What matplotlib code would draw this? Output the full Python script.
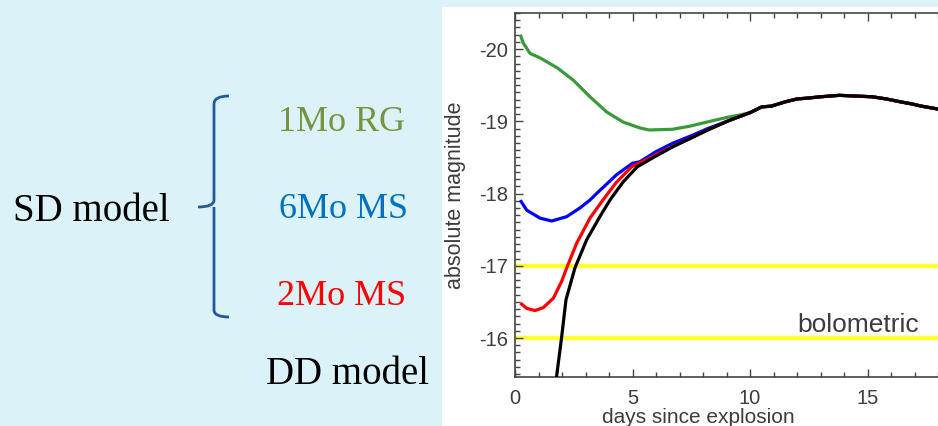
import matplotlib
matplotlib.use('Agg')
import numpy as np
import matplotlib.pyplot as plt
from matplotlib.patches import Rectangle, PathPatch
from matplotlib.path import Path
from matplotlib.ticker import MultipleLocator

plt.rcParams['font.family'] = ['Liberation Sans', 'DejaVu Sans']
plt.rcParams['axes.unicode_minus'] = False

# light curves (days since explosion, absolute magnitude)
tail_days = [10.0, 10.5, 10.9, 11.5, 12.0, 12.4, 13.0, 13.8, 14.5, 15.2, 15.8, 16.4, 16.9, 17.3, 18.0, 18.5]
tail_mag = [-19.12, -19.2, -19.21, -19.27, -19.31, -19.32, -19.34, -19.36, -19.35, -19.34, -19.31, -19.27, -19.24, -19.21, -19.17, -19.14]

rg_days = [0.25, 0.34, 0.64, 1.06, 1.8, 2.48, 3.19, 3.9, 4.6, 5.3, 5.7, 6.7, 7.4, 8.3, 9.1, 9.6]
rg_mag = [-20.18, -20.09, -19.94, -19.88, -19.74, -19.57, -19.34, -19.13, -18.99, -18.91, -18.88, -18.89, -18.93, -19.0, -19.06, -19.09]

ms6_days = [0.26, 0.5, 1.06, 1.56, 2.2, 2.76, 3.19, 3.47, 4.32, 5.0, 5.31, 6.0, 6.73, 7.5, 8.2, 9.1]
ms6_mag = [-17.89, -17.77, -17.66, -17.62, -17.68, -17.8, -17.91, -18.0, -18.26, -18.42, -18.44, -18.58, -18.7, -18.8, -18.9, -19.01]

ms2_days = [0.28, 0.5, 0.85, 1.2, 1.63, 1.98, 2.2, 2.62, 3.19, 3.74, 4.3, 4.96, 5.6, 6.5, 7.5, 8.2, 9.1]
ms2_mag = [-16.47, -16.41, -16.38, -16.42, -16.55, -16.78, -16.97, -17.31, -17.66, -17.91, -18.15, -18.37, -18.47, -18.62, -18.77, -18.88, -19.01]

dd_days = [1.65, 1.77, 1.98, 2.17, 2.55, 3.05, 3.61, 4.04, 4.6, 5.2, 6.0, 6.73, 7.5, 8.2, 9.1]
dd_mag = [-15.2, -15.47, -16.0, -16.53, -16.97, -17.36, -17.68, -17.91, -18.16, -18.37, -18.52, -18.65, -18.77, -18.88, -19.01]

limit_mags = [-17, -16]
xticks = [0, 5, 10, 15]
yticks = [-20, -19, -18, -17, -16]

W, H = 938, 426
fig = plt.figure(figsize=(W / 100, H / 100), dpi=100)
fig.patch.set_facecolor('#dbf3f8')


def fx(px):
    return px / W


def fy(py):
    return 1 - py / H


# white panel behind the plot
fig.patches.append(Rectangle((fx(442), 0), 1 - fx(442), fy(7), transform=fig.transFigure,
                             facecolor='white', edgecolor='none', zorder=-10))

ax = fig.add_axes([fx(515), fy(377), 23.5 * 20 / W, (377 - 13) / H])
ax.set_xlim(0, 20)
ax.set_ylim(-15.46, -20.5)

gray = '#3c3c3c'
for s in ax.spines.values():
    s.set_color('#444444')
    s.set_linewidth(1.2)

ax.set_xticks(xticks)
ax.set_xticklabels([str(t) for t in xticks])
ax.set_yticks(yticks)
ax.set_yticklabels([str(t) for t in yticks])
ax.xaxis.set_minor_locator(MultipleLocator(1))
ax.yaxis.set_minor_locator(MultipleLocator(0.1))
ax.tick_params(which='both', direction='in', top=True, right=True, colors='#444444',
               labelcolor=gray, labelsize=14.5, width=1)
ax.tick_params(which='major', length=6)
ax.tick_params(which='minor', length=3.5)
ax.tick_params(axis='x', pad=9)
ax.tick_params(axis='y', pad=5)

for m in limit_mags:
    ax.axhline(m, color='#ffff33', lw=3.2, zorder=1)

lw = 2.3
ax.plot(rg_days + tail_days, rg_mag + tail_mag, color='#3a9a3a', lw=lw, zorder=2)
ax.plot(ms6_days + tail_days, ms6_mag + tail_mag, color='#0000ff', lw=lw, zorder=3)
ax.plot(ms2_days + tail_days, ms2_mag + tail_mag, color='#ff0000', lw=lw, zorder=4)
ax.plot(dd_days + tail_days, dd_mag + tail_mag, color='black', lw=lw, zorder=5)

ax.text(12.0, -16.08, 'bolometric', fontsize=19, color=gray, va='baseline', ha='left')

fig.text(fx(698), fy(423), 'days since explosion', ha='center', va='baseline',
         fontsize=15, color=gray)
fig.text(fx(455), fy(195), 'absolute magnitude', ha='center', va='center',
         rotation=90, fontsize=15.5, color=gray)

# left side labels
serif = ['Liberation Serif', 'DejaVu Serif']
fig.text(fx(13), fy(221), 'SD model', family=serif, fontsize=28, color='black', va='baseline')
fig.text(fx(342), fy(131), '1Mo RG', family=serif, fontsize=26, color='#77933c', ha='center', va='baseline')
fig.text(fx(343), fy(218), '6Mo MS', family=serif, fontsize=26, color='#0070c0', ha='center', va='baseline')
fig.text(fx(342), fy(305), '2Mo MS', family=serif, fontsize=26, color='#ff0000', ha='center', va='baseline')
fig.text(fx(347), fy(384), 'DD model', family=serif, fontsize=28, color='black', ha='center', va='baseline')

# curly brace
pts = [(229, 96), (214, 96), (214, 104), (214, 200), (214, 207), (198, 207),
       (214, 207), (214, 214), (214, 310), (214, 317), (229, 317)]
codes = [Path.MOVETO, Path.CURVE3, Path.CURVE3, Path.LINETO, Path.CURVE3, Path.CURVE3,
         Path.MOVETO, Path.CURVE3, Path.LINETO, Path.CURVE3, Path.CURVE3]
brace = Path([(fx(x), fy(y)) for x, y in pts], codes)
fig.patches.append(PathPatch(brace, transform=fig.transFigure, facecolor='none',
                             edgecolor='#1f5a9f', lw=2))

fig.savefig('out.png', dpi=100, facecolor=fig.get_facecolor())
